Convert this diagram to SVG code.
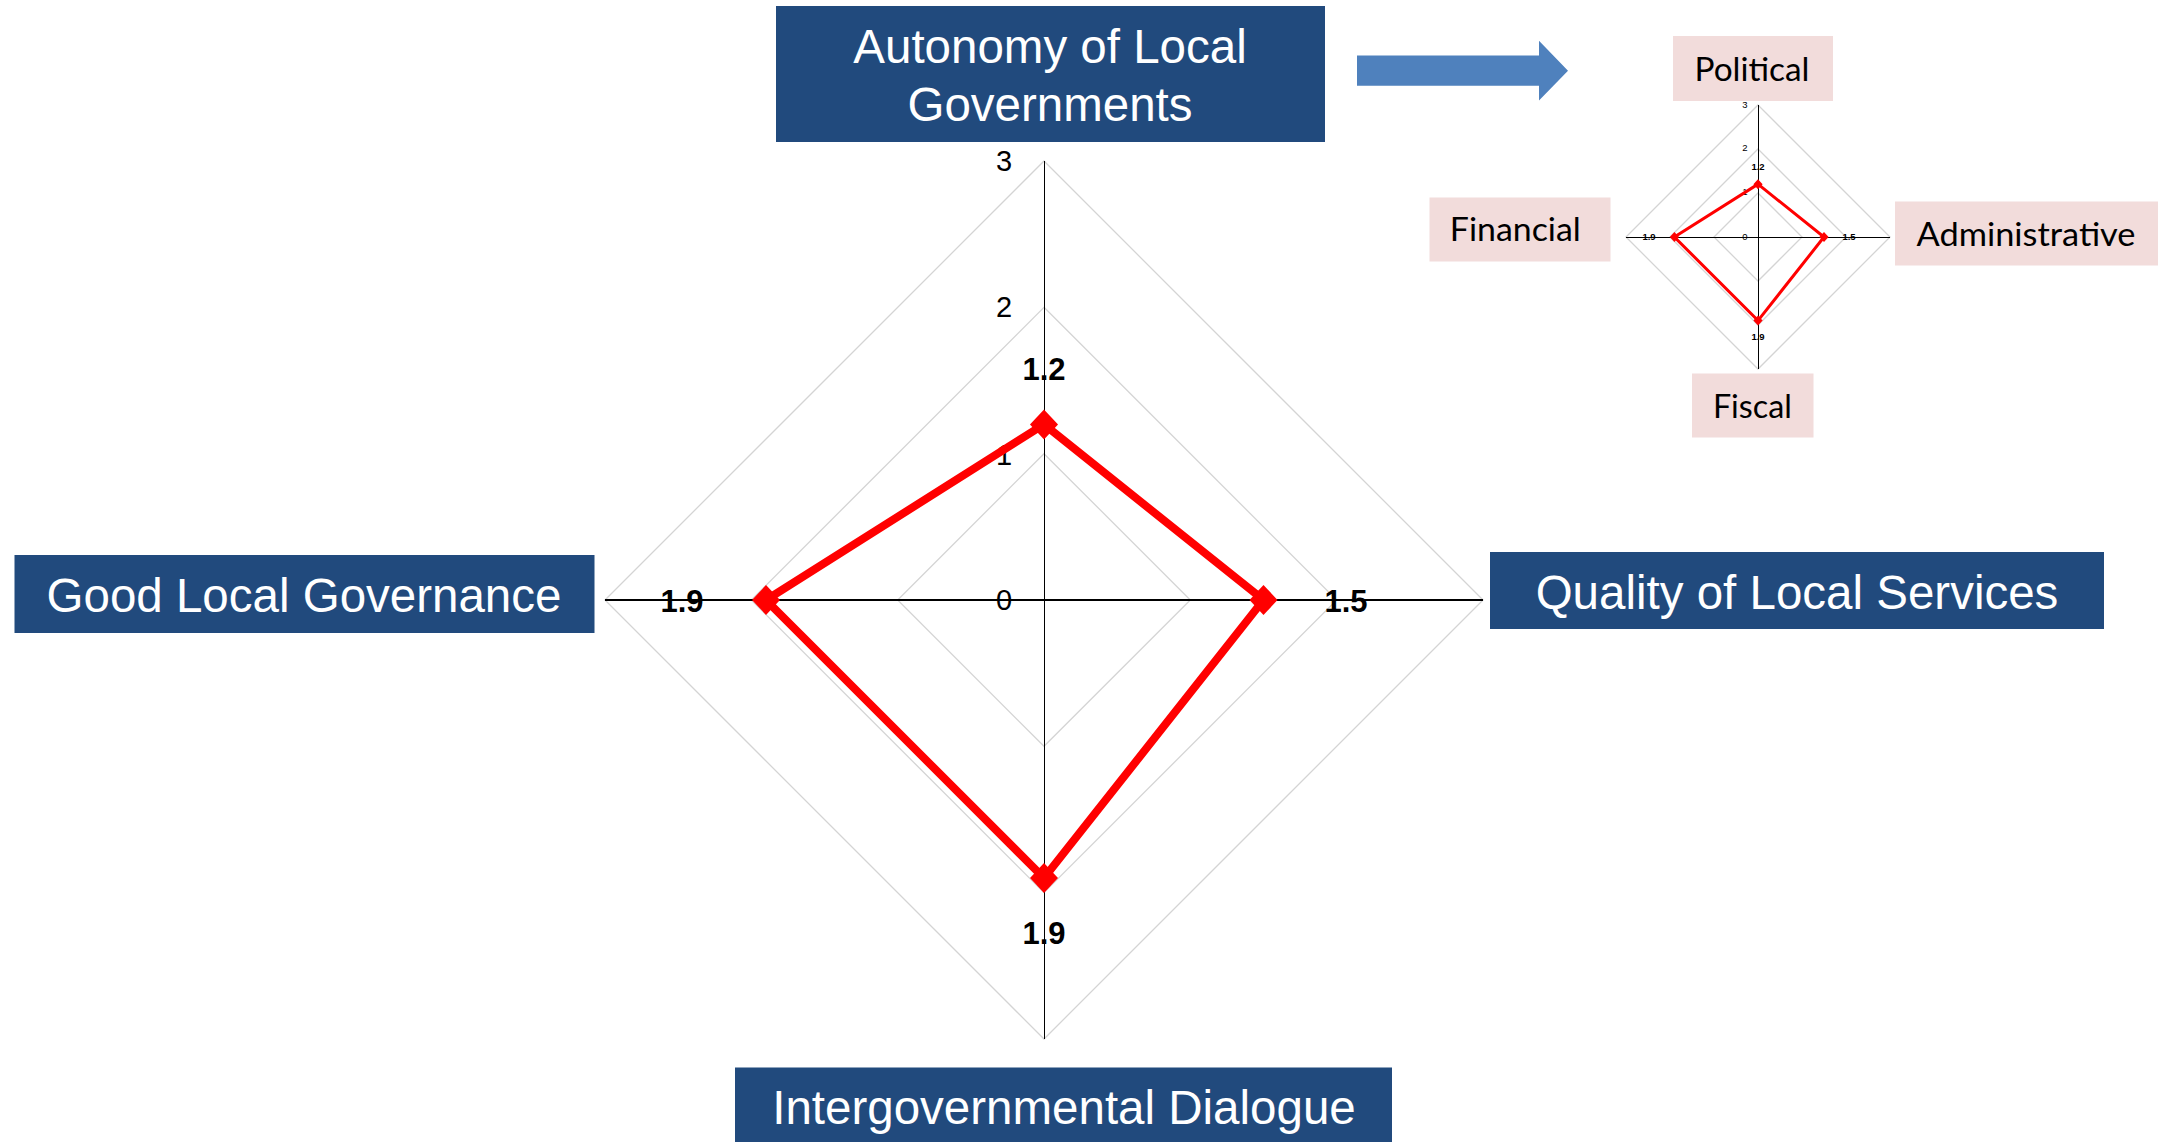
<svg xmlns="http://www.w3.org/2000/svg" xmlns:xlink="http://www.w3.org/1999/xlink" width="2158" height="1142" viewBox="0 0 2158 1142">
<style>
.bbox{fill:#214A7D}
.btxt{font-family:"Liberation Sans",Arial,sans-serif;font-size:47.5px;fill:#fff;text-anchor:middle}
.pbox{fill:#F2DCDB}
.ptxt{font-family:Lato,"Open Sans",sans-serif;font-size:33px;fill:#000;text-anchor:middle}
.grid{fill:none;stroke:#D4D4D4;stroke-width:1.3}
.ax{stroke:#000;stroke-width:1}
.axh{stroke:#000;stroke-width:2}
.data{fill:none;stroke:#FF0000;stroke-linejoin:miter}
.tick{font-family:"Liberation Sans",Arial,sans-serif;fill:#000;text-anchor:middle}
.val{font-family:"Liberation Sans",Arial,sans-serif;font-weight:bold;fill:#000;text-anchor:middle}
</style>
<defs>
<path id="mk" d="M0,-15 L14,0 L0,15 L-14,0 Z" fill="#FF0000"/>
<path id="mks" d="M0,-5 L4.6,0 L0,5 L-4.6,0 Z" fill="#FF0000"/>
</defs>
<rect width="2158" height="1142" fill="#fff"/>

<g id="main-chart">
<path class="grid" d="M1044,453.7 L1190.3,600 L1044,746.3 L897.7,600 Z"/>
<path class="grid" d="M1044,307.3 L1336.7,600 L1044,892.7 L751.3,600 Z"/>
<path class="grid" d="M1044,161 L1483,600 L1044,1039 L605,600 Z"/>
<line class="ax" x1="1044.5" y1="161" x2="1044.5" y2="1039"/>
<line class="axh" x1="605" y1="600" x2="1483" y2="600"/>
<g class="tick" font-size="29">
<text x="1004" y="171">3</text>
<text x="1004" y="317">2</text>
<text x="1004" y="465">1</text>
<text x="1004" y="610">0</text>
</g>
<polygon class="data" stroke-width="8" points="1044,424.4 1263.5,600 1044,878 766,600"/>
<use xlink:href="#mk" x="1044" y="424.4"/>
<use xlink:href="#mk" x="1263.5" y="600"/>
<use xlink:href="#mk" x="1044" y="878"/>
<use xlink:href="#mk" x="766" y="600"/>
<g class="val" font-size="31">
<text x="1044" y="380">1.2</text>
<text x="682" y="612">1.9</text>
<text x="1346" y="612">1.5</text>
<text x="1044" y="944">1.9</text>
</g>
</g>

<g id="small-chart">
<path class="grid" stroke-width="1" d="M1758,193 L1802,237 L1758,281 L1714,237 Z"/>
<path class="grid" stroke-width="1" d="M1758,149 L1846,237 L1758,325 L1670,237 Z"/>
<path class="grid" stroke-width="1" d="M1758,105 L1890,237 L1758,369 L1626,237 Z"/>
<line class="ax" x1="1758.5" y1="105" x2="1758.5" y2="369"/>
<line class="ax" x1="1626" y1="237.5" x2="1890" y2="237.5"/>
<g class="tick" font-size="9.5">
<text x="1745" y="108">3</text>
<text x="1745" y="151">2</text>
<text x="1745" y="195">1</text>
<text x="1745" y="240">0</text>
</g>
<polygon class="data" stroke-width="3" points="1758,184.2 1824,237 1758,320.6 1674.4,237"/>
<use xlink:href="#mks" x="1758" y="184.2"/>
<use xlink:href="#mks" x="1824" y="237"/>
<use xlink:href="#mks" x="1758" y="320.6"/>
<use xlink:href="#mks" x="1674.4" y="237"/>
<g class="val" font-size="9.5">
<text x="1758" y="170">1.2</text>
<text x="1649" y="240">1.9</text>
<text x="1849" y="240">1.5</text>
<text x="1758" y="340">1.9</text>
</g>
</g>

<g id="node-autonomy">
<rect class="bbox" x="776" y="6" width="549" height="136"/>
<text class="btxt" x="1050" y="63">Autonomy of Local</text>
<text class="btxt" x="1050" y="121">Governments</text>
</g>
<g id="node-good-governance">
<rect class="bbox" x="14.5" y="555" width="580" height="78"/>
<text class="btxt" x="304" y="612">Good Local Governance</text>
</g>
<g id="node-quality-services">
<rect class="bbox" x="1490" y="552" width="614" height="77"/>
<text class="btxt" x="1797" y="609">Quality of Local Services</text>
</g>
<g id="node-intergov-dialogue">
<rect class="bbox" x="735" y="1067.5" width="657" height="75"/>
<text class="btxt" x="1064" y="1124">Intergovernmental Dialogue</text>
</g>

<g id="node-political">
<rect class="pbox" x="1673" y="36" width="160" height="65"/>
<text class="ptxt" x="1752" y="81" textLength="115" lengthAdjust="spacingAndGlyphs">Political</text>
</g>
<g id="node-financial">
<rect class="pbox" x="1429.5" y="197.5" width="181" height="64"/>
<text class="ptxt" x="1515.3" y="241" textLength="131" lengthAdjust="spacingAndGlyphs">Financial</text>
</g>
<g id="node-administrative">
<rect class="pbox" x="1895" y="201.5" width="263" height="64"/>
<text class="ptxt" x="2026" y="245.7" textLength="219" lengthAdjust="spacingAndGlyphs">Administrative</text>
</g>
<g id="node-fiscal">
<rect class="pbox" x="1692" y="373.5" width="121.5" height="64"/>
<text class="ptxt" x="1752.4" y="417.7" textLength="79" lengthAdjust="spacingAndGlyphs">Fiscal</text>
</g>

<g id="connectors">
<polygon points="1357,55.5 1539,55.5 1539,40.7 1568,70.7 1539,100.5 1539,85.8 1357,85.8" fill="#4F81BD"/>
</g>
</svg>
